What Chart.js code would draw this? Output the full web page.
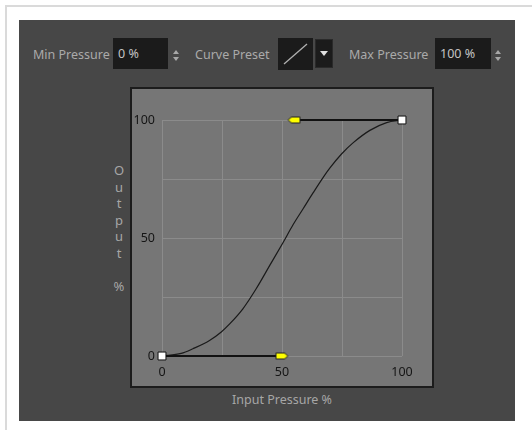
<!DOCTYPE html>
<html lang="en">
<head>
<meta charset="UTF-8">
<title>Pressure Curve</title>
<script src="https://cdn.jsdelivr.net/npm/chart.js"></script>
<style>
  body { margin: 0; background: #fff; font-family: "Noto Sans", sans-serif; }
  #stage { position: relative; width: 532px; height: 430px; overflow: hidden; }
  #frame { position: absolute; left: 5px; top: 5px; width: 560px; height: 460px; border: 2px solid #dadada; }
  #panel { position: absolute; left: 19px; top: 20px; width: 496px; height: 401px; background: #474747; }
  .lbl { position: absolute; color: #aaaaaa; font-size: 12.5px; line-height: 16px; white-space: nowrap; }
  .box { position: absolute; background: #1b1b1b; color: #c4c4c4; font-size: 12.5px; line-height: 31px; padding-left: 5px; box-sizing: border-box; }
  .spin { position: absolute; width: 6px; height: 11px; }
  .spin:before, .spin:after { content: ""; position: absolute; left: 0; border-left: 3px solid transparent; border-right: 3px solid transparent; }
  .spin:before { top: 0; border-bottom: 4px solid #a8a8a8; }
  .spin:after { bottom: 0; border-top: 4px solid #a8a8a8; }
  #plotbox { position: absolute; left: 130px; top: 87px; width: 300px; height: 297px; background: #767676; border: 2px solid #1c1c1c; }
  #ytitle { position: absolute; left: 112px; top: 162px; width: 14px; text-align: center; color: #a6a6a6; font-size: 13px; line-height: 16.5px; }
  #xtitle { position: absolute; left: 0; width: 564px; top: 391px; text-align: center; color: #a6a6a6; font-size: 12.5px; }
  canvas { position: absolute; left: 0; top: 0; }
</style>
</head>
<body>
<div id="stage">
  <div id="frame"></div>
  <div id="panel"></div>

  <div class="lbl" style="left:33px; top:47px;">Min Pressure</div>
  <div class="box" style="left:113px; top:38px; width:55px; height:31px;">0 %</div>
  <div class="spin" style="left:173px; top:50px;"></div>

  <div class="lbl" style="left:195px; top:47px;">Curve Preset</div>
  <div class="box" style="left:278px; top:38px; width:35px; height:32px; padding:0;">
    <svg width="35" height="32"><line x1="6" y1="26" x2="29" y2="6" stroke="#b0b0b0" stroke-width="1.3"/></svg>
  </div>
  <div class="box" style="left:315px; top:39px; width:18px; height:29px; padding:0; border:1px solid #2a2a2a;">
    <svg width="16" height="27"><polygon points="4,11 12,11 8,16" fill="#e0e0e0"/></svg>
  </div>

  <div class="lbl" style="left:349px; top:47px;">Max Pressure</div>
  <div class="box" style="left:435px; top:38px; width:56px; height:31px;">100 %</div>
  <div class="spin" style="left:495px; top:50px;"></div>

  <div id="plotbox"></div>
  <div id="ytitle">O<br>u<br>t<br>p<br>u<br>t<br>&nbsp;<br>%</div>
  <div id="xtitle">Input Pressure %</div>

  <canvas id="curveChart" width="532" height="430"></canvas>
</div>

<script>
  // points (input % -> output %)
  const inputPct  = [0, 8, 12.9, 19.8, 24.7, 28.2, 33.7, 39.3, 44.9, 50.4, 54.6, 58.8, 63.0, 67.1, 69.9, 74.8, 79.7, 86.6, 93.6, 100];
  const outputPct = [0, 1.1, 3.1, 6.6, 10.2, 13.6, 20.0, 28.6, 38.4, 48.0, 55.6, 62.4, 69.2, 75.6, 79.6, 85.6, 90.4, 95.6, 98.9, 100];

  // bezier handles: anchor point, then handle knob
  const lowHandleX  = [0, 50];
  const lowHandleY  = [0, 0];
  const highHandleX = [100, 55];
  const highHandleY = [100, 100];

  const axisTicks = [0, 50, 100];

  function toPoints(xs, ys) {
    return xs.map((x, i) => ({ x: x, y: ys[i] }));
  }

  // little yellow arrow knob used as a point style
  function makeKnob(pointRight) {
    const c = document.createElement("canvas");
    c.width = 15; c.height = 9;
    const g = c.getContext("2d");
    g.beginPath();
    if (pointRight) {
      g.moveTo(1.5, 1.5); g.lineTo(10, 1.5); g.lineTo(13.5, 4.5); g.lineTo(10, 7.5); g.lineTo(1.5, 7.5);
    } else {
      g.moveTo(13.5, 1.5); g.lineTo(5, 1.5); g.lineTo(1.5, 4.5); g.lineTo(5, 7.5); g.lineTo(13.5, 7.5);
    }
    g.closePath();
    g.fillStyle = "#ffff00";
    g.fill();
    g.strokeStyle = "#222";
    g.lineWidth = 1;
    g.stroke();
    return c;
  }

  const handleStyle = {
    showLine: true,
    clip: false,
    borderColor: "#111",
    borderWidth: 2,
    pointBackgroundColor: "#fff",
    pointBorderColor: "#111",
    pointBorderWidth: 1,
    pointRadius: 5.6
  };

  new Chart(document.getElementById("curveChart"), {
    type: "scatter",
    data: {
      datasets: [
        Object.assign({ data: toPoints(lowHandleX, lowHandleY), pointStyle: ["rect", makeKnob(true)] }, handleStyle),
        Object.assign({ data: toPoints(highHandleX, highHandleY), pointStyle: ["rect", makeKnob(false)] }, handleStyle),
        {
          data: toPoints(inputPct, outputPct),
          showLine: true,
          clip: false,
          borderColor: "#1a1a1a",
          borderWidth: 1.2,
          pointRadius: 0,
          cubicInterpolationMode: "monotone"
        }
      ]
    },
    options: {
      responsive: false,
      animation: false,
      devicePixelRatio: 1,
      layout: { padding: { left: 122, top: 120, right: 130, bottom: 54 } },
      plugins: { legend: { display: false }, tooltip: { enabled: false } },
      scales: {
        x: {
          type: "linear", min: 0, max: 100,
          afterFit: s => { s.height = 20; },
          border: { display: false },
          grid: { color: "#8b8b8b", drawTicks: false },
          ticks: {
            stepSize: 25, padding: 9, color: "#151515",
            font: { family: "Noto Sans", size: 12.5 },
            callback: v => axisTicks.includes(v) ? v : ""
          }
        },
        y: {
          type: "linear", min: 0, max: 100,
          afterFit: s => { s.width = 40; },
          border: { display: false },
          grid: { color: "#8b8b8b", drawTicks: false },
          ticks: {
            stepSize: 25, padding: 7, color: "#151515",
            font: { family: "Noto Sans", size: 12.5 },
            callback: v => axisTicks.includes(v) ? v : ""
          }
        }
      }
    }
  });
</script>
</body>
</html>
